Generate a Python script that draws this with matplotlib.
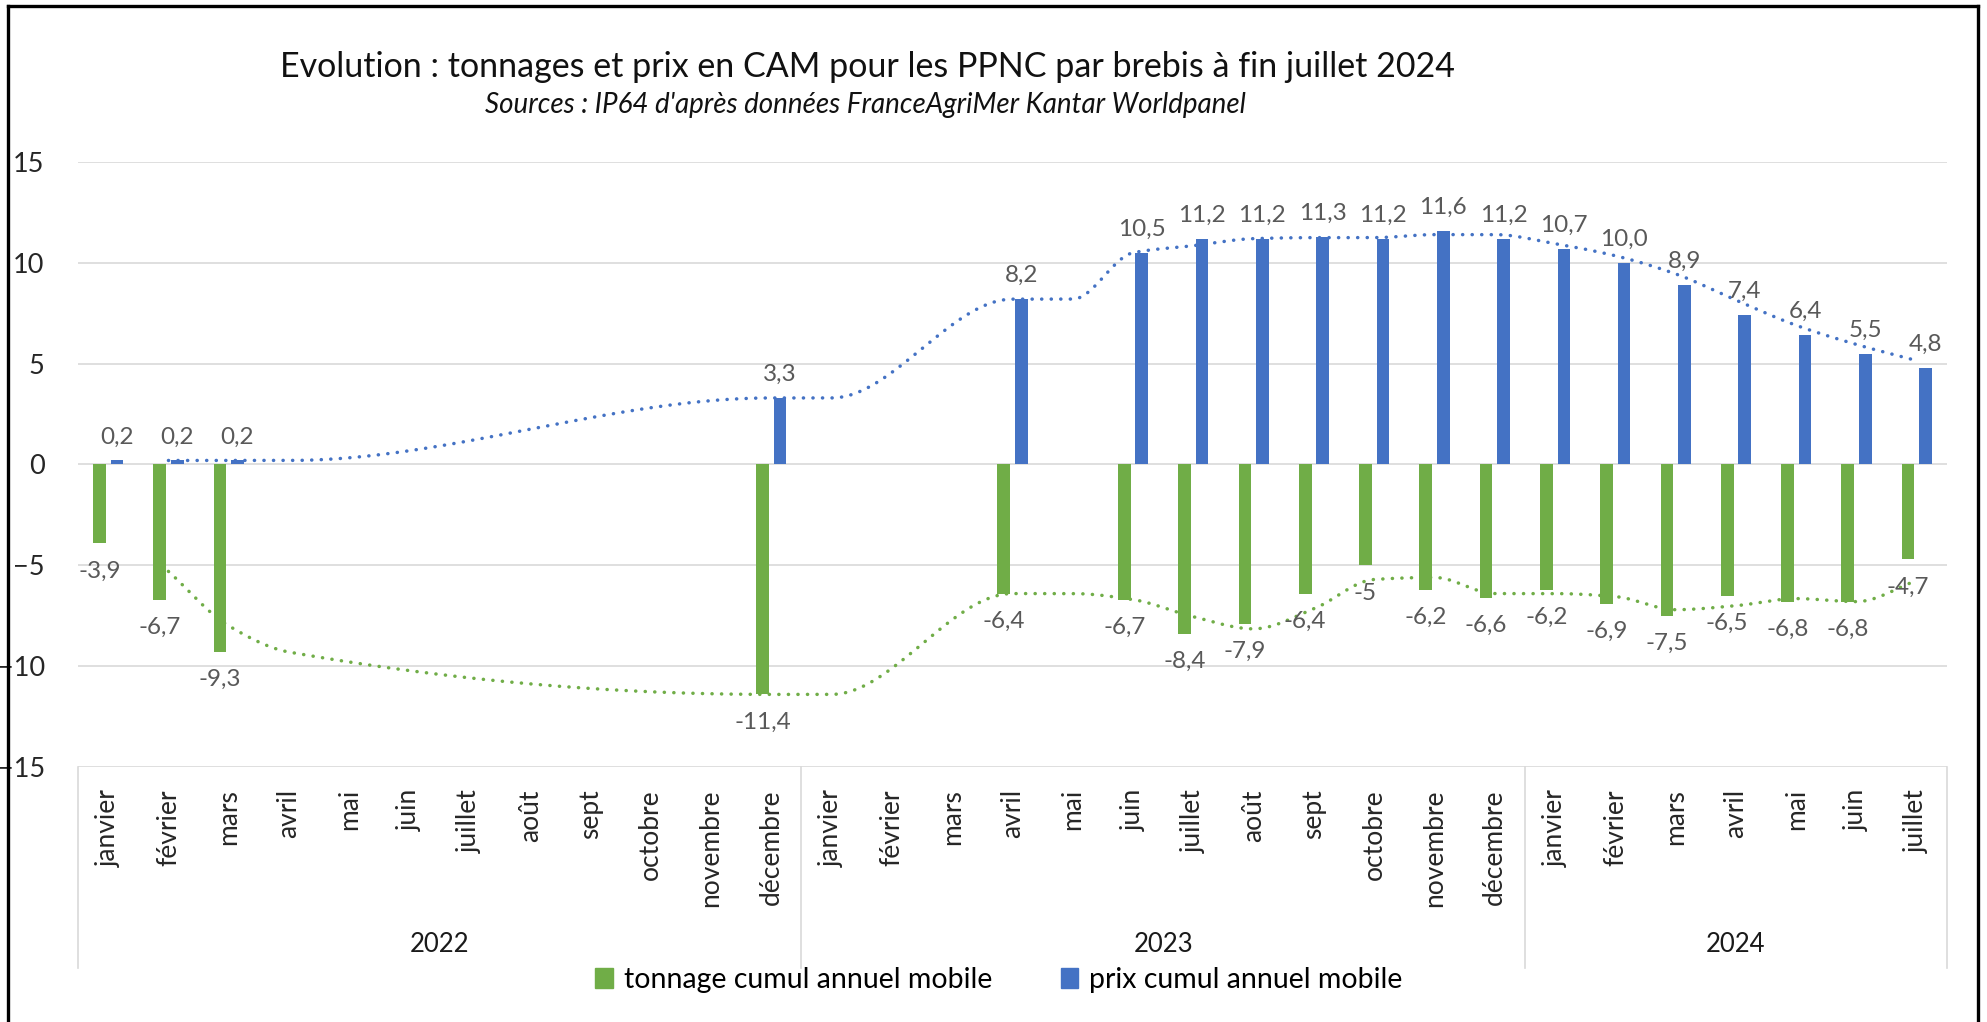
import numpy as np
import matplotlib
matplotlib.use("Agg")
import matplotlib.pyplot as plt
from matplotlib.lines import Line2D
from matplotlib.patches import Patch
import matplotlib.transforms as mtransforms

plt.rcParams['font.family'] = ['Lato', 'DejaVu Sans']

# ---------------- data ----------------
nan = np.nan
months = ['janvier', 'février', 'mars', 'avril', 'mai', 'juin', 'juillet',
          'août', 'sept', 'octobre', 'novembre', 'décembre'] * 2 + \
         ['janvier', 'février', 'mars', 'avril', 'mai', 'juin', 'juillet']
years = ['2022', '2023', '2024']
year_counts = [12, 12, 7]

tonnage = [-3.9, -6.7, -9.3, nan, nan, nan, nan, nan, nan, nan, nan, -11.4,
           nan, nan, nan, -6.4, nan, -6.7, -8.4, -7.9, -6.4, -5, -6.2, -6.6,
           -6.2, -6.9, -7.5, -6.5, -6.8, -6.8, -4.7]
prix = [0.2, 0.2, 0.2, nan, nan, nan, nan, nan, nan, nan, nan, 3.3,
        nan, nan, nan, 8.2, nan, 10.5, 11.2, 11.2, 11.3, 11.2, 11.6, 11.2,
        10.7, 10.0, 8.9, 7.4, 6.4, 5.5, 4.8]

series_names = ['tonnage cumul annuel mobile', 'prix cumul annuel mobile']
title = "Evolution : tonnages et prix en CAM pour les PPNC par brebis à fin juillet 2024"
subtitle = "Sources : IP64 d'après données FranceAgriMer Kantar Worldpanel"

GREEN = '#70AD47'
BLUE = '#4472C4'
LABEL_C = '#595959'

# ---------------- helpers ----------------
W, H = 1987, 1022


def fx(px):
    return px / W


def fy(py):
    return 1 - py / H


def moving_avg2(vals):
    """Excel-like 2-period moving average trendline ignoring blanks."""
    v = np.array(vals, dtype=float)
    out = np.full(len(v), nan)
    for i in range(1, len(v)):
        win = v[i - 1:i + 1]
        win = win[~np.isnan(win)]
        if len(win):
            out[i] = win.mean()
    return out


def pchip(xk, yk, xs):
    xk = np.asarray(xk, float)
    yk = np.asarray(yk, float)
    h = np.diff(xk)
    d = np.diff(yk) / h
    n = len(xk)
    m = np.zeros(n)
    m[0], m[-1] = d[0], d[-1]
    for k in range(1, n - 1):
        if d[k - 1] * d[k] <= 0:
            m[k] = 0.0
        else:
            w1 = 2 * h[k] + h[k - 1]
            w2 = h[k] + 2 * h[k - 1]
            m[k] = (w1 + w2) / (w1 / d[k - 1] + w2 / d[k])
    idx = np.clip(np.searchsorted(xk, xs) - 1, 0, n - 2)
    hh = h[idx]
    t = (xs - xk[idx]) / hh
    h00 = 2 * t**3 - 3 * t**2 + 1
    h10 = t**3 - 2 * t**2 + t
    h01 = -2 * t**3 + 3 * t**2
    h11 = t**3 - t**2
    return h00 * yk[idx] + h10 * hh * m[idx] + h01 * yk[idx + 1] + h11 * hh * m[idx + 1]


# ---------------- figure ----------------
fig = plt.figure(figsize=(W / 100, H / 100), dpi=100)
ax = fig.add_axes([fx(78), fy(767), fx(1947) - fx(78), fy(162) - fy(767)])

x = np.arange(len(months))
ton = np.array(tonnage, float)
pri = np.array(prix, float)
off, bw = 0.145, 0.21

mt = ~np.isnan(ton)
mp = ~np.isnan(pri)
ax.bar(x[mt] - off, ton[mt], width=bw, color=GREEN, zorder=3)
ax.bar(x[mp] + off, pri[mp], width=bw, color=BLUE, zorder=3)

# data labels
for xi, v in zip(x[mt], ton[mt]):
    ax.annotate(f"{v:g}".replace('.', ','), (xi - off, v), xytext=(0, -20),
                textcoords='offset points', ha='center', va='center',
                fontsize=17.5, color=LABEL_C, zorder=5)
for xi, v in zip(x[mp], pri[mp]):
    ax.annotate(f"{v:.1f}".replace('.', ','), (xi + off, v), xytext=(0, 17),
                textcoords='offset points', ha='center', va='center',
                fontsize=17.5, color=LABEL_C, zorder=5)

# trendlines (2-period moving average, smoothed)
for vals, col in ((tonnage, GREEN), (prix, BLUE)):
    ma = moving_avg2(vals)
    ok = ~np.isnan(ma)
    xk, yk = x[ok], ma[ok]
    xs = np.linspace(xk[0], xk[-1], 800)
    ys = pchip(xk, yk, xs)
    ax.plot(xs, ys, color=col, lw=2.5, linestyle=(0, (0.05, 2.7)),
            dash_capstyle='round', zorder=4)

# axes styling
ax.set_xlim(-0.5, len(months) - 0.5)
ax.set_ylim(-15, 15)
ax.set_yticks(np.arange(-15, 16, 5))
ax.yaxis.grid(True, color='#D9D9D9', lw=1.2, zorder=0)
ax.set_axisbelow(True)
for s in ax.spines.values():
    s.set_visible(False)
ax.tick_params(axis='y', length=0, pad=24, labelsize=19.5, labelcolor='#262626')
ax.set_xticks(x)
ax.set_xticklabels(months, rotation=90, ha='center', va='top')
ax.tick_params(axis='x', length=0, pad=16, labelsize=19, labelcolor='#262626')

# multi-level category axis: separators & year labels
trans = mtransforms.blended_transform_factory(ax.transData, ax.transAxes)
ybot = -(968 - 767) / (767 - 162)
bounds = np.concatenate([[0], np.cumsum(year_counts)]) - 0.5
for b in bounds:
    ax.add_line(Line2D([b, b], [0, ybot], transform=trans, color='#D9D9D9',
                       lw=1.2, clip_on=False))
yyear = -(944 - 767) / (767 - 162)
for yr, a, b in zip(years, bounds[:-1], bounds[1:]):
    ax.text((a + b) / 2, yyear, yr, transform=trans, ha='center', va='center',
            fontsize=18.5, color='#1a1a1a')

# title & subtitle
fig.text(fx(867), fy(67), title, ha='center', va='center', fontsize=24.5,
         color='#111111')
fig.text(fx(865), fy(105), subtitle, ha='center', va='center', fontsize=20,
         style='italic', color='#111111')

# legend
handles = [Patch(color=GREEN), Patch(color=BLUE)]
fig.legend(handles, series_names, loc='center', bbox_to_anchor=(fx(999), fy(980)),
           ncol=2, frameon=False, fontsize=20.5, handlelength=0.6, handleheight=0.75,
           handletextpad=0.4, columnspacing=2.4, borderaxespad=0, borderpad=0)

# outer black frame (bottom edge cut off)
for (x0, y0, x1, y1) in [(8, 6, 1978, 6), (8, 6, 8, 1022), (1978, 6, 1978, 1022)]:
    fig.add_artist(Line2D([fx(x0), fx(x1)], [fy(y0), fy(y1)], color='black',
                          lw=2.4, transform=fig.transFigure))

fig.savefig('out.png', dpi=100, facecolor='white')
